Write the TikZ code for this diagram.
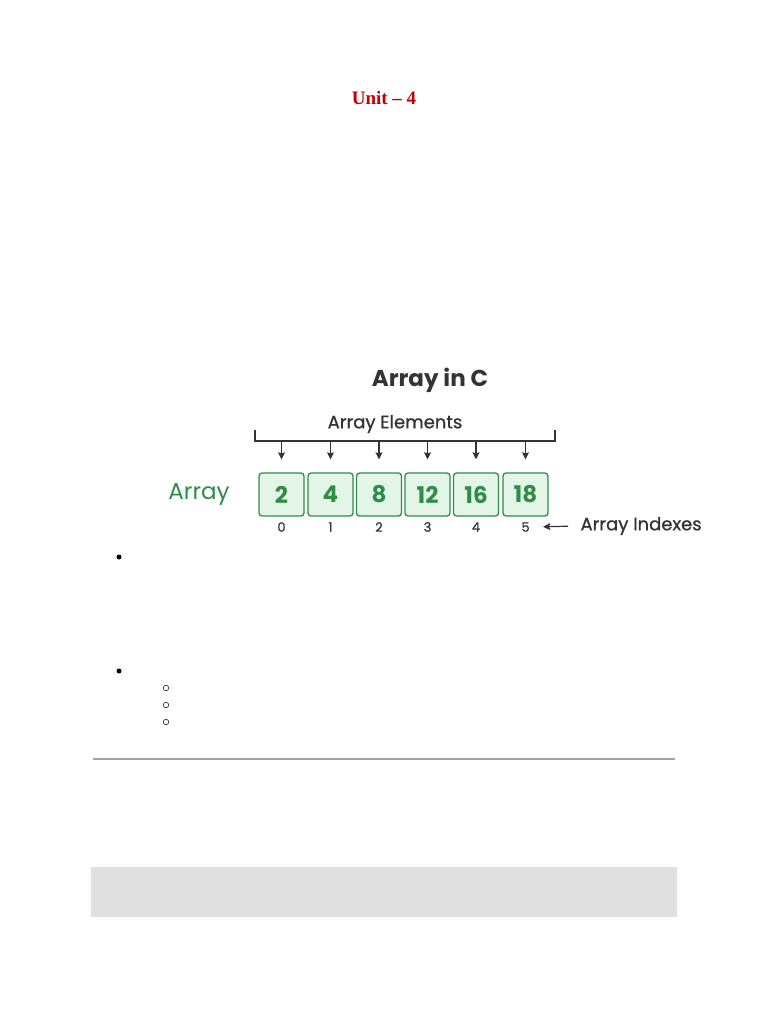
\documentclass[tikz,border=0pt]{standalone}
\usepackage{fontspec}
\setmainfont{Liberation Serif}
\newfontfamily\pop{Poppins}
\newfontfamily\popm{Poppins}[FakeBold=0.8]
\usetikzlibrary{arrows.meta}
\definecolor{unitred}{HTML}{C00000}
\definecolor{dark}{HTML}{333333}
\definecolor{ggreen}{HTML}{2F8D46}
\definecolor{boxfill}{HTML}{E3F5E6}
\definecolor{rulegray}{HTML}{A0A0A0}
\definecolor{bandgray}{HTML}{E0E0E0}
\tikzset{
  cell/.style={draw=ggreen, fill=boxfill, line width=1.3pt, rounded corners=3pt,
    minimum width=45pt, minimum height=43pt, inner sep=0pt,
    font=\pop\bfseries\fontsize{23}{23}\selectfont, text=ggreen},
  idx/.style={font=\popm\fontsize{13}{13}\selectfont, text=dark},
  downarr/.style={-{Stealth[length=7pt,width=7pt,inset=1pt]}, line width=1.2pt, draw=dark},
  bullet/.style={circle, fill=black, inner sep=0pt, minimum size=5pt},
  subbullet/.style={circle, draw=black, line width=0.5pt, inner sep=0pt, minimum size=5.5pt},
}
\begin{document}
\begin{tikzpicture}[x=1pt,y=-1pt]
\useasboundingbox (0,0) rectangle (768,1024);
\fill[white] (0,0) rectangle (768,1024);
\node[font=\bfseries\fontsize{19}{19}\selectfont, text=unitred] (unit) at (384,98) {Unit -- 4};
\node[font=\pop\bfseries\fontsize{23}{23}\selectfont, text=dark] (title) at (430,380) {Array in C};
\node[font=\popm\fontsize{18}{18}\selectfont, text=dark] (elems) at (395,424) {Array Elements};
% bracket
\coordinate (bl) at (255,441);
\coordinate (br) at (555,441);
\draw[dark, line width=1.3pt] (255,430) -- (bl) -- (br) -- (555,430);
% cells
\foreach \v/\x [count=\i from 0] in {2/281.5,4/330.5,8/379,12/427.5,16/476,18/525.5} {
  \node[cell] (c\i) at (\x,494.5) {\v};
  \node[idx] (i\i) at (\x,527) {\i};
  \coordinate (t\i) at (\x,441);
  \draw[downarr, shorten >=13pt] (t\i) -- (c\i.north);
}
\node[font=\pop\fontsize{23}{23}\selectfont, text=ggreen] (arr) at (199,494) {Array};
\node[font=\popm\fontsize{18}{18}\selectfont, text=dark, anchor=west] (indexes) at (577,526) {Array Indexes};
\draw[downarr, shorten <=9pt, shorten >=10pt] (indexes.west) -- (i5.east);
% bullets
\node[bullet] (b1) at (119,557) {};
\node[bullet] (b2) at (119,671) {};
\node[subbullet] (s1) at (166,688) {};
\node[subbullet] (s2) at (166,705) {};
\node[subbullet] (s3) at (166,722) {};
% rule and band
\draw[rulegray, line width=2pt] (93,759) -- (675,759);
\fill[bandgray] (91,867) rectangle (677,917);
\end{tikzpicture}
\end{document}
